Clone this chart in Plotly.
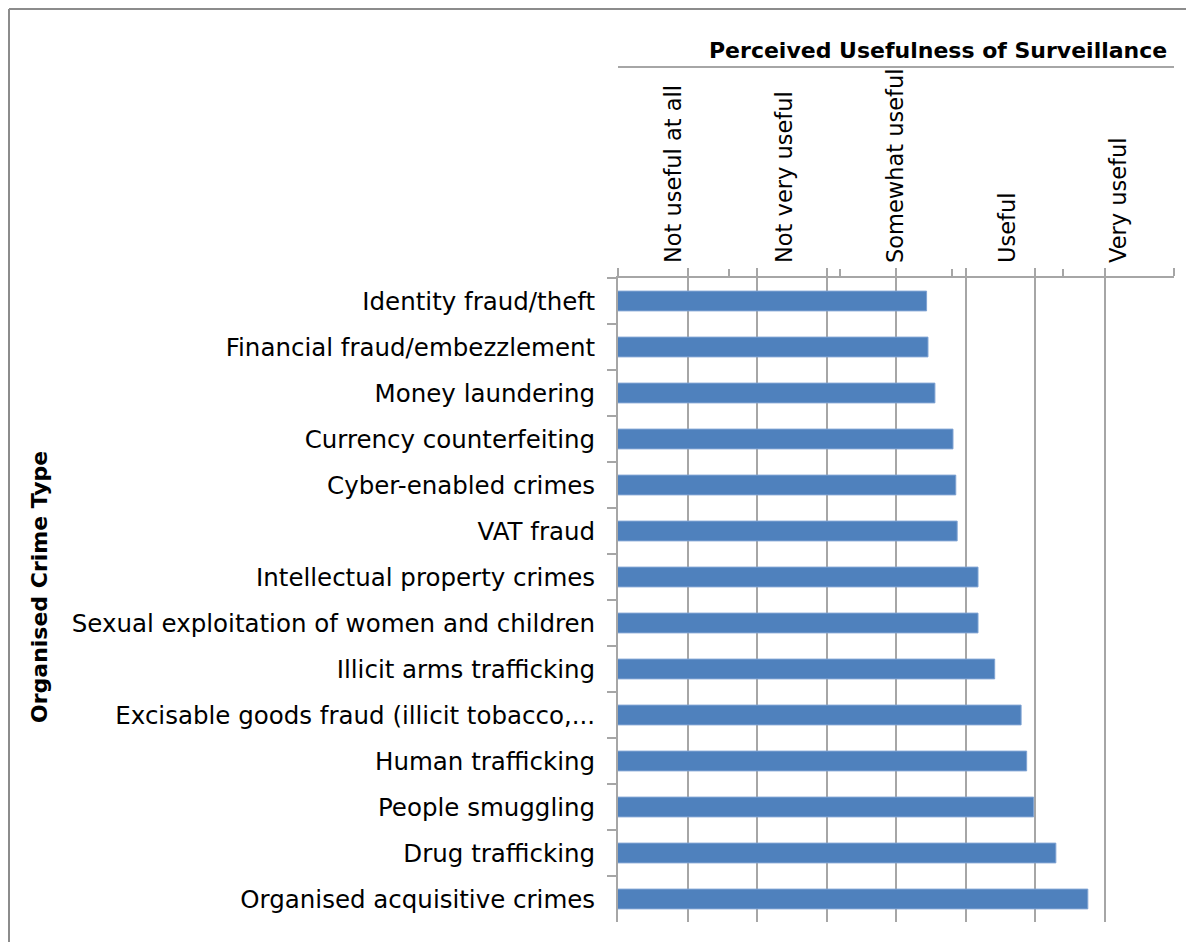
import plotly.graph_objects as go

# data (1 = not useful at all ... 5 = very useful)
crimes = [
    "Identity fraud/theft",
    "Financial fraud/embezzlement",
    "Money laundering",
    "Currency counterfeiting",
    "Cyber-enabled crimes",
    "VAT fraud",
    "Intellectual property crimes",
    "Sexual exploitation of women and children",
    "Illicit arms trafficking",
    "Excisable goods fraud (illicit tobacco,...",
    "Human trafficking",
    "People smuggling",
    "Drug trafficking",
    "Organised acquisitive crimes",
]
usefulness = [3.22, 3.23, 3.28, 3.41, 3.43, 3.44, 3.59, 3.59, 3.71, 3.90, 3.94, 3.99, 4.15, 4.38]
scale_labels = ["Not useful at all", "Not very useful", "Somewhat useful", "Useful", "Very useful"]

W, H = 1194, 942
OFF = 8  # page body margin
# plot area in screen pixels: x 618..1174, y 278..922
PX0, PX1, PY0, PY1 = 618, 1174, 278, 922
L, T = PX0 - OFF, PY0 - OFF
R, B = W - (PX1 - OFF), H - (PY1 - OFF)
FONT = "DejaVu Sans"
GREY = "#A6A6A6"


def px2x(px):
    return (px - PX0) / (PX1 - PX0)


def py2y(py):
    return (PY1 - py) / (PY1 - PY0)


fig = go.Figure()

fig.add_trace(go.Bar(
    x=usefulness, y=crimes, orientation="h",
    width=0.43,
    marker=dict(color="#4F81BD", line=dict(color="#7FA3D3", width=1)),
    hoverinfo="x+y",
))

# helper trace so the top category scale exists
fig.add_trace(go.Scatter(
    x=[0, 5], y=[crimes[0], crimes[0]], xaxis="x2", yaxis="y",
    mode="markers", marker=dict(opacity=0), hoverinfo="skip", showlegend=False,
))

fig.update_layout(
    width=W, height=H,
    margin=dict(l=L, r=R, t=T, b=B),
    paper_bgcolor="white", plot_bgcolor="white",
    showlegend=False,
    font=dict(family=FONT, size=20, color="#000000"),
    xaxis=dict(
        range=[1, 5], dtick=0.5, side="top",
        showgrid=True, gridcolor=GREY, gridwidth=2,
        showticklabels=False, ticks="outside", ticklen=8, tickcolor=GREY, tickwidth=2,
        showline=True, linecolor=GREY, linewidth=2,
        zeroline=False, fixedrange=True,
    ),
    xaxis2=dict(
        overlaying="x", side="top", range=[0, 5],
        tickvals=[0.5, 1.5, 2.5, 3.5, 4.5], ticktext=scale_labels,
        tickangle=-90, ticks="", ticklabelstandoff=14,
        minor=dict(tickvals=[1, 2, 3, 4], ticks="outside", ticklen=8, tickcolor=GREY, tickwidth=2, showgrid=False),
        showgrid=False, zeroline=False, showline=False,
        tickfont=dict(family=FONT, size=22.5, color="#000000"),
    ),
    yaxis=dict(
        type="category", categoryarray=crimes, range=[13.5, -0.5],
        tickson="boundaries", ticks="outside", ticklen=9, tickcolor=GREY, tickwidth=2,
        showline=True, linecolor=GREY, linewidth=2, showgrid=False,
        ticklabelstandoff=16,
        tickfont=dict(family=FONT, size=24.5, color="#000000"),
    ),
    annotations=[
        dict(text="<b>Perceived Usefulness of Surveillance</b>", xref="paper", yref="paper",
             x=px2x(1169), y=py2y(50), xanchor="right", yanchor="middle",
             showarrow=False, font=dict(family=FONT, size=22, color="#000000")),
        dict(text="<b>Organised Crime Type</b>", xref="paper", yref="paper",
             x=px2x(39), y=py2y(587), xanchor="center", yanchor="middle", textangle=-90,
             showarrow=False, font=dict(family=FONT, size=22, color="#000000")),
    ],
    shapes=[
        dict(type="line", xref="paper", yref="paper", x0=0, x1=1, y0=py2y(67), y1=py2y(67),
             line=dict(color=GREY, width=2)),
        dict(type="line", xref="paper", yref="paper", x0=px2x(9), x1=px2x(W + 20), y0=py2y(9), y1=py2y(9),
             line=dict(color="#8C8C8C", width=2)),
        dict(type="line", xref="paper", yref="paper", x0=px2x(9), x1=px2x(9), y0=py2y(9), y1=py2y(H + 20),
             line=dict(color="#8C8C8C", width=2)),
    ],
)

fig.write_html("out.html")
